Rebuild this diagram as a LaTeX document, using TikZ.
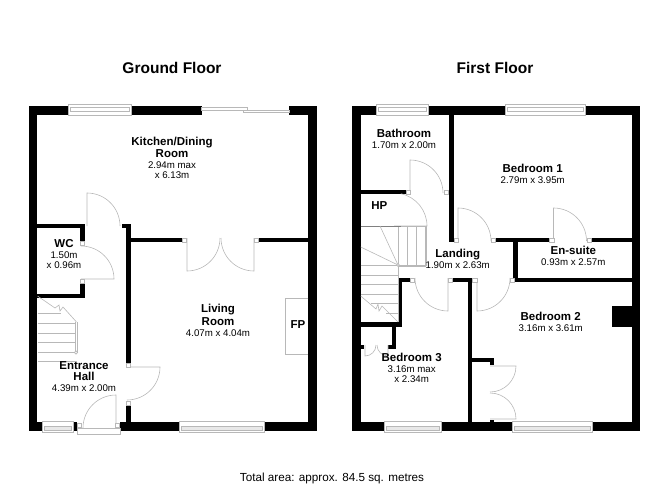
\documentclass[tikz,border=0pt]{standalone}
\usepackage{fontspec}
\setmainfont{Liberation Sans}
\definecolor{planline}{gray}{0.72}
\definecolor{sillfill}{gray}{0.91}
\tikzset{
    wall/.style={fill=black},
    door/.style={draw=planline,line width=0.6pt},
    jamb/.style={draw=planline,fill=white,line width=0.6pt},
    sill/.style={draw=planline,fill=white,line width=0.8pt},
    tread/.style={draw=planline,line width=0.6pt},
    title/.style={font=\fontsize{15.5}{18}\selectfont\bfseries},
    room/.style={align=center,inner sep=0pt,font=\fontsize{9.7}{10}\selectfont},
    tag/.style={inner sep=0pt,font=\fontsize{11.5}{13}\selectfont\bfseries}
    }
\newcommand{\rname}[1]{{\fontsize{11.5}{12}\selectfont\bfseries #1}}

\begin{document}
\begin{tikzpicture}[x=1pt,y=-1pt]
                \useasboundingbox (0,0) rectangle (668,486);
                % The Walls
                \foreach \xa/\ya/\xb/\yb in {
                    29/106/317/114.7, 29/106/37.3/430.7, 308.3/106/317/430.7, 29/422/317/430.7,
                    37/224/85/228.3, 80/224/85/241, 80/283/85/298.3, 37/294/85/298.3,
                    121.7/224/130.5/228.3, 126/224/130.5/363, 126/405/130.5/422,
                    130/237.7/182/242, 258.7/237.7/308.3/242,
                    352.3/106/640/114.7, 352.3/106/360.7/430.7, 631.7/106/640/430.7, 352.3/422.3/640/430.7,
                    449.3/114/454/241.7, 360/190/406/194.3,
                    495.7/237.7/549.3/242, 591.5/237.7/632/242,
                    513.3/242/517.7/282.3, 513/278/632/282.3,
                    398.3/278.3/410/282.3, 398.3/278.3/401.5/326.7, 360/322.3/401.5/326.7,
                    392.3/326/396/349, 388/345/396/349, 360/345/364/349,
                    452.7/278.3/472.3/282.3, 467.7/278.3/472/422.3,
                    472/358.3/494/362.3, 490/358.3/494/365, 490/420/494/423,
                    611.7/305.7/632/327.3}
                    \fill[wall] (\xa,\ya) rectangle (\xb,\yb);
                % The Windows
                \foreach \xa/\xb in {68/131.7, 376.7/428.3, 505/585}{
                    \draw[sill] (\xa,104.7) rectangle (\xb,115);
                    \draw[tread] (\xa+2,107.5) rectangle (\xb-2,111);
                }
                \foreach \xa/\xb in {42.3/73.3, 179.3/264.3, 384/441, 512.3/592.3}{
                    \draw[sill] (\xa,421.7) rectangle (\xb,432.5);
                    \draw[tread,fill=sillfill] (\xa+2,426) rectangle (\xb-2,430);
                }
                % Sliding door and front door sill
                \fill[white] (201.7,105.5) rectangle (289.3,114.9);
                \draw[tread] (201.7,107) rectangle (247,110);
                \draw[tread] (243,110) rectangle (289.3,112.5);
                \fill[white] (77,421.7) rectangle (120,434);
                \draw[sill] (77,428) rectangle (120,434);
                % The Doors
                \foreach \cx/\cy/\rad/\sa/\ea in {
                    81/279/33/0/90, 87/226/33/90/0, 187/238/33/-90/0, 254/238/33/-90/-180,
                    127/367/33/0/-90, 116/428/33/90/180,
                    410/193/33/90/0, 394/226/33/0/78, 458/241/33/90/0, 553.5/241/33/90/0,
                    477/278/33/-90/0, 448/278/33/-90/-180,
                    365/345/11/-90/0, 388/345/11/-90/-180,
                    490/366/26/0/-90, 490/419/26/0/90}
                    \draw[door] (\cx,\cy) -- ++(\sa:\rad pt) arc[start angle=\sa,end angle=\ea,radius=\rad pt];
                \foreach \xa/\ya in {
                    80/241, 80/279, 182/238, 254/238, 126/363, 126/401, 77/423, 115/423,
                    444/190, 406/190, 454/238, 491/238, 549.5/238, 587/238,
                    510/278, 472.5/278, 410/278, 448/278}
                    \draw[jamb] (\xa,\ya) rectangle ++(4.5,4.2);
                % Stairs ground floor
                \draw[tread] (37.5,313) -- (61,313);
                \foreach \yy in {323,333,342,352,361}
                    \draw[tread] (37.5,\yy) -- (75,\yy);
                \draw[tread] (37.5,296) -- (55,308) -- (59,305) -- (60,311) -- (63,307) -- (76.5,322);
                \draw[tread] (75.5,322) -- (75.5,352) (77,322) -- (77,352);
                \draw[jamb] (76,352.5) circle (1.6);
                % Stairs first floor
                \draw[tread] (398,226) rectangle (426.7,265);
                \foreach \xx in {407,416,425}
                    \draw[tread] (\xx,226) -- (\xx,265);
                \draw[tread] (398,266.5) -- (426,266.5);
                \draw[draw=gray,line width=0.8pt] (360.7,226) -- (401,226);
                \draw[tread] (380,226) -- (398,265) (360.7,247) -- (398,265);
                \foreach \yy in {265,275,284,294}
                    \draw[tread] (360.7,\yy) -- (398,\yy);
                \draw[tread] (371,303) -- (398,303) (386,313) -- (398,313);
                \draw[tread] (398.3,265) -- (398.3,322);
                \draw[tread] (360.7,296) -- (376,309) -- (378,304) -- (379,311) -- (382,306) -- (398,322);
                \draw[jamb] (398,265) circle (1.4);
                % Fireplace
                \draw[jamb] (308.3,298) -- (285.7,298) -- (285.7,354) -- (308.3,354);
                % The Labels
                \node[title] (ground) at (172,68) {Ground Floor};
                \node[title] (first) at (495,68) {First Floor};
                \node[room] (kitchen) at (172,158.2) {\rname{Kitchen/Dining}\\[1pt]\rname{Room}\\[1pt]2.94m max\\x 6.13m};
                \node[room] (wc) at (64,254.5) {\rname{WC}\\[1pt]1.50m\\x 0.96m};
                \node[room] (hall) at (84,377) {\rname{Entrance}\\[1pt]\rname{Hall}\\[1pt]4.39m x 2.00m};
                \node[room] (living) at (218,320.5) {\rname{Living}\\[1pt]\rname{Room}\\[1pt]4.07m x 4.04m};
                \node[tag] (fp) at (298,325) {FP};
                \node[room] (bathroom) at (404,138.5) {\rname{Bathroom}\\[1pt]1.70m x 2.00m};
                \node[tag] (hp) at (379.3,206) {HP};
                \node[room] (landing) at (457.7,259) {\rname{Landing}\\[1pt]1.90m x 2.63m};
                \node[room] (bedone) at (532.7,174.3) {\rname{Bedroom 1}\\[1pt]2.79m x 3.95m};
                \node[room] (ensuite) at (573.3,256) {\rname{En-suite}\\[1pt]0.93m x 2.57m};
                \node[room] (bedtwo) at (550.7,322.2) {\rname{Bedroom 2}\\[1pt]3.16m x 3.61m};
                \node[room] (bedthree) at (411.7,367.8) {\rname{Bedroom 3}\\[1pt]3.16m max\\x 2.34m};
                \node[font=\fontsize{11.7}{13}\selectfont,inner sep=0pt] (total) at (332,478) {Total area: approx. 84.5 sq. metres};
            \end{tikzpicture}
\end{document}
